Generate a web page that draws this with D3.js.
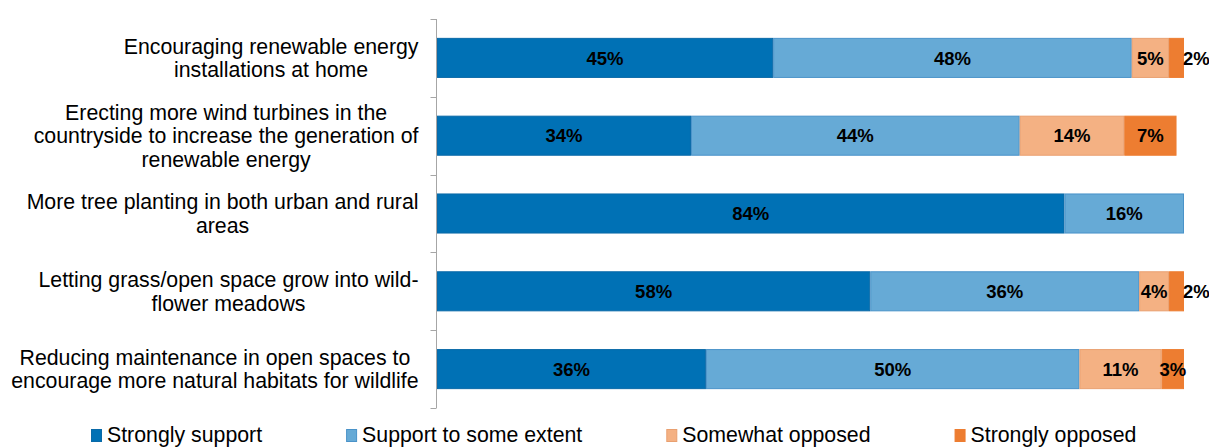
<!DOCTYPE html>
<html>
<head>
<meta charset="utf-8">
<script src="https://cdn.jsdelivr.net/npm/d3@7/dist/d3.min.js"></script>
<style>
  html, body { margin: 0; padding: 0; background: #fff; }
  svg { display: block; font-family: "Liberation Sans", Arial, sans-serif; }
</style>
</head>
<body>
<svg id="chart" width="1209" height="448"></svg>
<script>
// Survey statements (line breaks mark the wrapped label lines)
const categories = [
  "Encouraging renewable energy\ninstallations at home",
  "Erecting more wind turbines in the\ncountryside to increase the generation of\nrenewable energy",
  "More tree planting in both urban and rural\nareas",
  "Letting grass/open space grow into wild-\nflower meadows",
  "Reducing maintenance in open spaces to\nencourage more natural habitats for wildlife"
];

const seriesNames = ["Strongly support", "Support to some extent", "Somewhat opposed", "Strongly opposed"];

// Percentages per statement, one array per response
const stronglySupport = [45, 34, 84, 58, 36];
const supportSomeExtent = [48, 44, 16, 36, 50];
const somewhatOpposed = [5, 14, 0, 4, 11];
const stronglyOpposed = [2, 7, 0, 2, 3];

const fills = ["#0071b5", "#66aad6", "#f4b183", "#ed7d31"];
const strokes = ["#0a6aa8", "#4a93c9", "#e9a070", "#ed7d31"];

const margin = { left: 436.5, top: 19, bottom: 408 };

const svg = d3.select("#chart");

const rows = categories.map((c, i) => ({
  cat: c,
  values: [stronglySupport[i], supportSomeExtent[i], somewhatOpposed[i], stronglyOpposed[i]]
}));

const x = d3.scaleLinear().domain([0, 100]).range([437, 1184]);
const y = d3.scaleBand()
  .domain(d3.range(categories.length))
  .range([margin.top, margin.bottom])
  .paddingInner(0.485)
  .paddingOuter(0.2425);

// Vertical category axis with ticks on band boundaries
const axisColor = "#a6a6a6";
const axisG = svg.append("g");
axisG.append("line")
  .attr("x1", margin.left).attr("x2", margin.left)
  .attr("y1", margin.top).attr("y2", margin.bottom)
  .attr("stroke", axisColor).attr("stroke-width", 1);
const step = y.step();
d3.range(categories.length + 1).forEach(k => {
  const yy = Math.round(margin.top + k * step) + 0.5;
  axisG.append("line")
    .attr("x1", margin.left - 6).attr("x2", margin.left)
    .attr("y1", yy).attr("y2", yy)
    .attr("stroke", axisColor).attr("stroke-width", 1);
});

// Stacked segments
const stackData = rows.map(r => {
  let acc = 0;
  return r.values.map((v, s) => {
    const seg = { s, x0: acc, x1: acc + v, v };
    acc += v;
    return seg;
  });
});

const rowG = svg.selectAll("g.row").data(rows).join("g").attr("class", "row");

rowG.each(function (r, i) {
  const g = d3.select(this);
  const segs = stackData[i].filter(d => d.v > 0);
  const y0 = y(i), bh = y.bandwidth();

  g.selectAll("rect").data(segs).join("rect")
    .attr("x", d => x(d.x0) + 0.5)
    .attr("y", y0 + 0.5)
    .attr("width", d => x(d.x1) - x(d.x0) - 1)
    .attr("height", bh - 1)
    .attr("fill", d => fills[d.s])
    .attr("stroke", d => strokes[d.s])
    .attr("stroke-width", 1);

  g.selectAll("text.val").data(segs).join("text")
    .attr("class", "val")
    .attr("font-size", 18.5)
    .attr("font-weight", "bold")
    .attr("fill", "#000")
    .attr("y", y0 + bh / 2)
    .attr("dy", "0.36em")
    .text(d => d.v + "%")
    .each(function (d) {
      const t = d3.select(this);
      const w = this.getComputedTextLength();
      const segW = x(d.x1) - x(d.x0);
      if (w > segW + 6) {
        // too narrow: set the label just past the segment end
        t.attr("x", x(d.x1) - 1).attr("text-anchor", "start");
      } else {
        t.attr("x", (x(d.x0) + x(d.x1)) / 2).attr("text-anchor", "middle");
      }
    });
});

// Category labels: centred block, right-aligned to the axis
const labelRight = 418.5, fs = 21.3, lh = 23.5;
rows.forEach((r, i) => {
  const lines = r.cat.split("\n");
  const cy = y(i) + y.bandwidth() / 2;
  const tg = svg.append("g");
  const texts = lines.map((ln, k) =>
    tg.append("text")
      .attr("font-size", fs)
      .attr("fill", "#000")
      .attr("text-anchor", "middle")
      .attr("y", cy - (lines.length - 1) / 2 * lh + k * lh)
      .attr("dy", "0.35em")
      .text(ln)
  );
  const maxW = d3.max(texts, t => t.node().getComputedTextLength());
  texts.forEach(t => t.attr("x", labelRight - maxW / 2));
});

// Legend along the bottom edge
const legend = svg.append("g");
let lx = 91;
seriesNames.forEach((name, s) => {
  legend.append("rect")
    .attr("x", lx + 0.5).attr("y", 429.5)
    .attr("width", 10).attr("height", 12)
    .attr("fill", fills[s]).attr("stroke", strokes[s]);
  const t = legend.append("text")
    .attr("x", lx + 16).attr("y", 442)
    .attr("font-size", fs)
    .attr("fill", "#000")
    .text(name);
  lx += 16 + t.node().getComputedTextLength() + 84;
});
</script>
</body>
</html>
